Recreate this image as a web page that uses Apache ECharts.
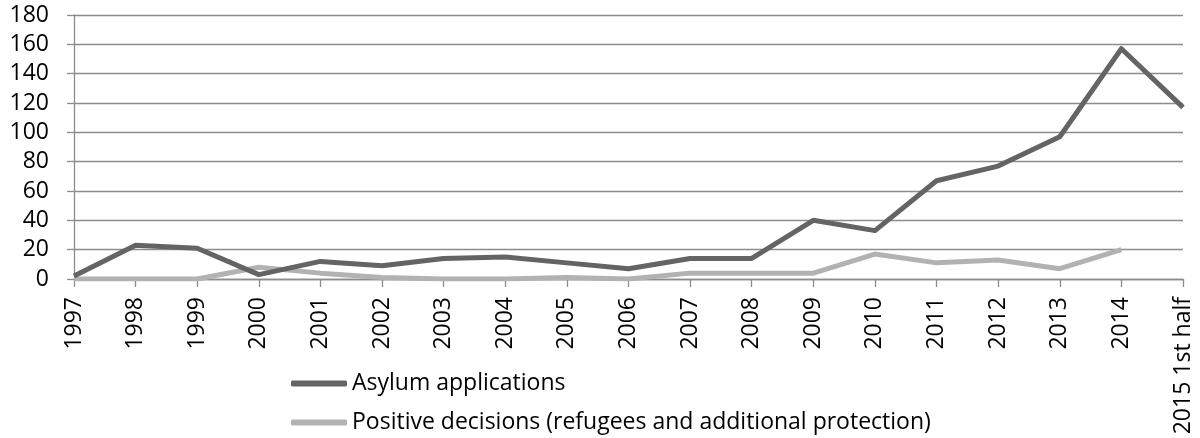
<!DOCTYPE html>
<html>
<head>
<meta charset="utf-8">
<script src="https://cdn.jsdelivr.net/npm/echarts@6/dist/echarts.min.js"></script>
<style>
  html, body { margin: 0; padding: 0; background: #fff; }
  #chart { width: 1200px; height: 438px; }
</style>
</head>
<body>
<div id="chart"></div>
<script>
// years on the x axis
const years = ['1997', '1998', '1999', '2000', '2001', '2002', '2003', '2004', '2005', '2006',
  '2007', '2008', '2009', '2010', '2011', '2012', '2013', '2014', '2015 1st half']
// asylum applications
const asylum = [2, 23, 21, 3, 12, 9, 14, 15, 11, 7, 14, 14, 40, 33, 67, 77, 97, 157, 117]
// positive decisions, no value for 2015
const positive = [0, 0, 0, 8, 4, 1, 0, 0, 1, 0, 4, 4, 4, 17, 11, 13, 7, 20, null]
const seriesNames = ['Asylum applications', 'Positive decisions (refugees and additional protection)']

const chart = echarts.init(document.getElementById('chart'))
const font = '"Open Sans", sans-serif'
const gridColor = '#8c8c8c'
const fs = 23

chart.setOption({
  animation: false,
  textStyle: { fontFamily: font },
  grid: { left: 74, right: 17, top: 15, bottom: 159 },
  legend: {
    orient: 'vertical',
    left: 291,
    top: 372,
    padding: 0,
    itemWidth: 56,
    itemHeight: 6,
    itemGap: 16,
    icon: 'roundRect',
    textStyle: { fontFamily: font, fontSize: fs, color: '#000', lineHeight: fs },
    data: seriesNames
  },
  xAxis: {
    type: 'category',
    boundaryGap: false,
    data: years,
    axisLine: { lineStyle: { color: gridColor, width: 1.3 } },
    axisTick: { show: true, length: 8, interval: 0, lineStyle: { color: gridColor, width: 1.3 } },
    axisLabel: { interval: 0, rotate: 90, margin: 18, fontSize: fs, color: '#000', fontFamily: font }
  },
  yAxis: {
    type: 'value',
    min: 0,
    max: 180,
    interval: 20,
    axisLine: { show: true, lineStyle: { color: gridColor, width: 1.3 } },
    axisTick: { show: true, length: 7, lineStyle: { color: gridColor, width: 1.3 } },
    axisLabel: { margin: 25, fontSize: fs, color: '#000', fontFamily: font },
    splitLine: { lineStyle: { color: gridColor, width: 1.3 } }
  },
  series: [
    {
      name: seriesNames[1],
      type: 'line',
      data: positive,
      symbol: 'none',
      lineStyle: { width: 5, color: '#b2b2b2', join: 'round' },
      itemStyle: { color: '#b2b2b2' }
    },
    {
      name: seriesNames[0],
      type: 'line',
      data: asylum,
      symbol: 'none',
      lineStyle: { width: 5, color: '#646464', join: 'round' },
      itemStyle: { color: '#646464' }
    }
  ]
})
</script>
</body>
</html>
